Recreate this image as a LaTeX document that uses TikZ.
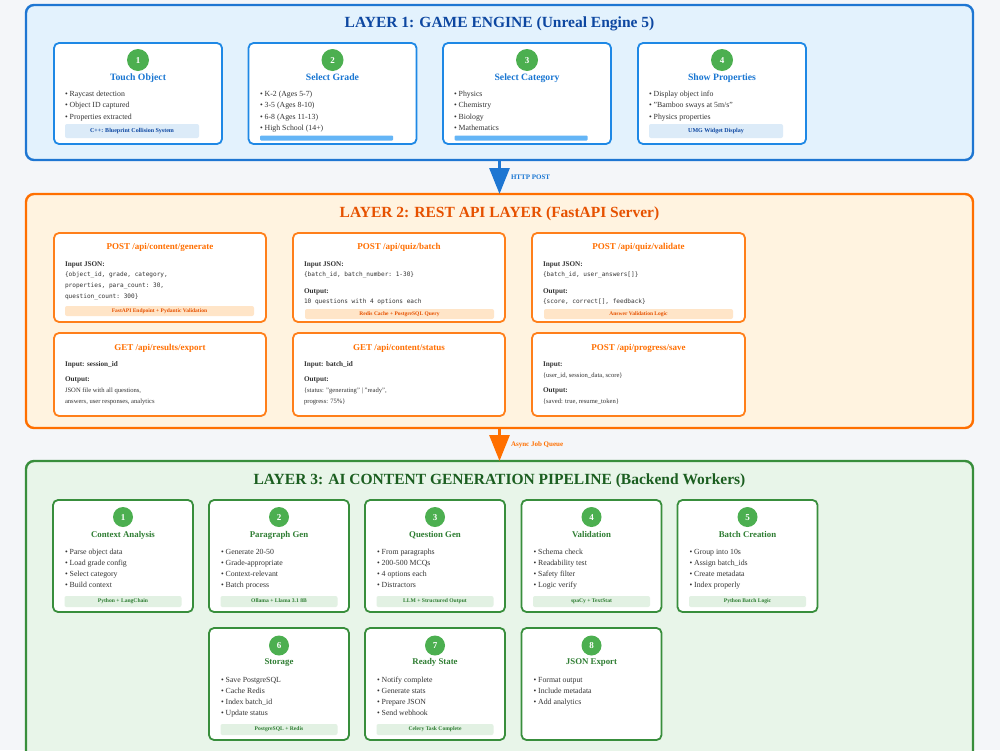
\documentclass[tikz,border=0pt]{standalone}
\usepackage{fontspec}
\setmainfont{Liberation Serif}
\setmonofont{DejaVu Sans Mono}
\usetikzlibrary{arrows.meta}
\definecolor{bgc}{HTML}{F4F6F9}
\definecolor{txt}{HTML}{333333}
\definecolor{bFill}{HTML}{E3F2FD}
\definecolor{bLine}{HTML}{1E76D2}
\definecolor{bDark}{HTML}{0D47A1}
\definecolor{bMid}{HTML}{1976D2}
\definecolor{bBox}{HTML}{1E88E5}
\definecolor{bFoot}{HTML}{DCEBF8}
\definecolor{bBar}{HTML}{64B5F6}
\definecolor{oFill}{HTML}{FFF3E0}
\definecolor{oLine}{HTML}{FF6F00}
\definecolor{oDark}{HTML}{E65100}
\definecolor{oBox}{HTML}{FF7F1A}
\definecolor{oFoot}{HTML}{FFE5C8}
\definecolor{gFill}{HTML}{E8F5E9}
\definecolor{gLine}{HTML}{388E3C}
\definecolor{gDark}{HTML}{1B5E20}
\definecolor{gMid}{HTML}{2E7D32}
\definecolor{gFoot}{HTML}{E2F1E3}
\definecolor{numc}{HTML}{4CAF50}
\newcommand\fsz[1]{\fontsize{#1}{#1}\selectfont}
\tikzset{
  every node/.style={inner sep=0pt, outer sep=0pt},
  layerbox/.style={draw, line width=2.4pt, rounded corners=8pt, minimum width=947pt},
  layertitle/.style={font=\fsz{15.5}\bfseries, text height=14.4pt, text depth=3.2pt},
  bbox/.style={draw=bBox, fill=white, line width=1.8pt, rounded corners=5pt, minimum width=168pt, minimum height=101pt},
  obox/.style={draw=oBox, fill=white, line width=1.8pt, rounded corners=5pt},
  gbox/.style={draw=gLine, fill=white, line width=1.8pt, rounded corners=5pt, minimum width=140pt, minimum height=112pt},
  numdot/.style={circle, fill=numc, text=white, font=\fsz{9}\bfseries, text height=6pt, text depth=0pt},
  btitle/.style={text=bMid, font=\fsz{9.7}\bfseries, text height=9.8pt, text depth=1.8pt},
  otitle/.style={text=oLine, font=\fsz{9}\bfseries, text height=8.6pt, text depth=1.8pt},
  gtitle/.style={text=gMid, font=\fsz{8.8}\bfseries, text height=8.8pt, text depth=1.8pt},
  bul/.style={anchor=west, text=txt, font=\fsz{7.8}, text height=8.3pt, text depth=1.5pt},
  lab/.style={anchor=west, text=txt, font=\fsz{7.2}\bfseries, text height=6.6pt, text depth=1.3pt},
  mono/.style={anchor=west, text=txt, font=\fsz{6.1}\ttfamily, text height=5.4pt, text depth=1.3pt},
  small/.style={anchor=west, text=txt, font=\fsz{6.6}, text height=6.2pt, text depth=1.2pt},
  bfoot/.style={fill=bFoot, rounded corners=2pt, minimum width=134pt, minimum height=14pt, text=bDark, font=\fsz{6}\bfseries, text height=4.2pt, text depth=1.2pt},
  bbar/.style={fill=bBar, rounded corners=1pt, minimum width=133pt, minimum height=5pt},
  ofoot/.style={fill=oFoot, rounded corners=2pt, minimum width=189pt, minimum height=10pt, text=oDark, font=\fsz{5.5}\bfseries, text height=3.9pt, text depth=1.1pt},
  gfoot/.style={fill=gFoot, rounded corners=2pt, minimum width=117pt, minimum height=11pt, text=gMid, font=\fsz{5.6}\bfseries, text height=3.9pt, text depth=1.1pt},
  flow/.style={line width=3pt, -{Triangle[length=26pt,width=20pt]}},
  flowlab/.style={anchor=west, font=\fsz{7}\bfseries, text height=5.6pt, text depth=1.2pt}
}
\begin{document}
\begin{tikzpicture}[x=1pt,y=-1pt]
\fill[bgc] (0,0) rectangle (1000,750);
\useasboundingbox (0,0) rectangle (1000,750);

% ---------- LAYER 1 ----------
\node[layerbox, draw=bLine, fill=bFill, minimum height=155pt] (L1) at (499.5,82.5) {};
\node[layertitle, text=bDark] (L1t) at (499.5,22) {LAYER 1: GAME ENGINE (Unreal Engine 5)};

\node[bbox] (a1) at (138,93.5) {};
\node[numdot, minimum size=22pt] (a1n) at (138,60) {1};
\node[btitle] (a1t) at (138,76) {Touch Object};
\node[bul] (a1a) at (65,93) {• Raycast detection};
\node[bul] (a1b) at (65,104.5) {• Object ID captured};
\node[bul] (a1c) at (65,116) {• Properties extracted};
\node[bfoot] (a1f) at (132,131) {C++: Blueprint Collision System};

\node[bbox] (a2) at (332.5,93.5) {};
\node[numdot, minimum size=22pt] (a2n) at (332.5,60) {2};
\node[btitle] (a2t) at (332.5,76) {Select Grade};
\node[bul] (a2a) at (260,93) {• K-2 (Ages 5-7)};
\node[bul] (a2b) at (260,104.5) {• 3-5 (Ages 8-10)};
\node[bul] (a2c) at (260,116) {• 6-8 (Ages 11-13)};
\node[bul] (a2d) at (260,127) {• High School (14+)};
\node[bbar] (a2f) at (326.5,138) {};

\node[bbox] (a3) at (527,93.5) {};
\node[numdot, minimum size=22pt] (a3n) at (527,60) {3};
\node[btitle] (a3t) at (527,76) {Select Category};
\node[bul] (a3a) at (454,93) {• Physics};
\node[bul] (a3b) at (454,104.5) {• Chemistry};
\node[bul] (a3c) at (454,116) {• Biology};
\node[bul] (a3d) at (454,127) {• Mathematics};
\node[bbar] (a3f) at (521,138) {};

\node[bbox] (a4) at (722,93.5) {};
\node[numdot, minimum size=22pt] (a4n) at (722,60) {4};
\node[btitle] (a4t) at (722,76) {Show Properties};
\node[bul] (a4a) at (649,93) {• Display object info};
\node[bul] (a4b) at (649,104.5) {• "Bamboo sways at 5m/s"};
\node[bul] (a4c) at (649,116) {• Physics properties};
\node[bfoot] (a4f) at (716,131) {UMG Widget Display};

% ---------- LAYER 2 ----------
\node[layerbox, draw=oLine, fill=oFill, minimum height=234pt] (L2) at (499.5,311) {};
\node[layertitle, text=oDark] (L2t) at (499.5,212) {LAYER 2: REST API LAYER (FastAPI Server)};

\draw[flow, bLine] (L1.south) -- (L2.north);
\node[flowlab, text=bMid] (f1) at (511,177) {HTTP POST};

\node[obox, minimum width=212pt, minimum height=89pt] (b1) at (160,277.5) {};
\node[otitle] (b1t) at (160,246) {POST /api/content/generate};
\node[lab] (b1a) at (65,264) {Input JSON:};
\node[mono] (b1b) at (65,274.5) {\{object\_id, grade, category,};
\node[mono] (b1c) at (65,285.5) {properties, para\_count: 30,};
\node[mono] (b1d) at (65,296.5) {question\_count: 300\}};
\node[ofoot] (b1f) at (159.5,311) {FastAPI Endpoint + Pydantic Validation};

\node[obox, minimum width=212pt, minimum height=89pt] (b2) at (399,277.5) {};
\node[otitle] (b2t) at (399,246) {POST /api/quiz/batch};
\node[lab] (b2a) at (304,264) {Input JSON:};
\node[mono] (b2b) at (304,274) {\{batch\_id, batch\_number: 1-30\}};
\node[lab] (b2c) at (304,290.5) {Output:};
\node[mono] (b2d) at (304,301) {10 questions with 4 options each};
\node[ofoot] (b2f) at (399.5,314) {Redis Cache + PostgreSQL Query};

\node[obox, minimum width=213pt, minimum height=89pt] (b3) at (638.5,277.5) {};
\node[otitle] (b3t) at (638.5,246) {POST /api/quiz/validate};
\node[lab] (b3a) at (543,264) {Input JSON:};
\node[mono] (b3b) at (543,274) {\{batch\_id, user\_answers[]\}};
\node[lab] (b3c) at (543,290.5) {Output:};
\node[mono] (b3d) at (543,301) {\{score, correct[], feedback\}};
\node[ofoot] (b3f) at (638.5,314) {Answer Validation Logic};

\node[obox, minimum width=212pt, minimum height=83pt] (b4) at (160,374.5) {};
\node[otitle] (b4t) at (160,347) {GET /api/results/export};
\node[lab] (b4a) at (65,364) {Input: session\_id};
\node[lab] (b4b) at (65,379) {Output:};
\node[small] (b4c) at (65,389.5) {JSON file with all questions,};
\node[small] (b4d) at (65,400.5) {answers, user responses, analytics};

\node[obox, minimum width=212pt, minimum height=83pt] (b5) at (399,374.5) {};
\node[otitle] (b5t) at (399,347) {GET /api/content/status};
\node[lab] (b5a) at (304,364) {Input: batch\_id};
\node[lab] (b5b) at (304,379) {Output:};
\node[small] (b5c) at (304,389.5) {\{status: "generating" | "ready",};
\node[small] (b5d) at (304,400.5) {progress: 75\%\}};

\node[obox, minimum width=213pt, minimum height=83pt] (b6) at (638.5,374.5) {};
\node[otitle] (b6t) at (638.5,347) {POST /api/progress/save};
\node[lab] (b6a) at (543,364) {Input:};
\node[small] (b6b) at (543,375) {\{user\_id, session\_data, score\}};
\node[lab] (b6c) at (543,390) {Output:};
\node[small] (b6d) at (543,400.5) {\{saved: true, resume\_token\}};

% ---------- LAYER 3 ----------
\node[layerbox, draw=gLine, fill=gFill, minimum height=300pt] (L3) at (499.5,611) {};
\node[layertitle, text=gDark] (L3t) at (499.5,479) {LAYER 3: AI CONTENT GENERATION PIPELINE (Backend Workers)};

\draw[flow, oLine] (L2.south) -- (L3.north);
\node[flowlab, text=oLine] (f2) at (511,444) {Async Job Queue};

% row 1
\node[gbox] (c1) at (123,556) {};
\node[numdot, minimum size=20pt] (c1n) at (123,517) {1};
\node[gtitle] (c1t) at (123,533.5) {Context Analysis};
\node[bul] (c1a) at (65,551) {• Parse object data};
\node[bul] (c1b) at (65,562) {• Load grade config};
\node[bul] (c1c) at (65,573) {• Select category};
\node[bul] (c1d) at (65,584) {• Build context};
\node[gfoot] (c1f) at (123,601.5) {Python + LangChain};

\node[gbox] (c2) at (279,556) {};
\node[numdot, minimum size=20pt] (c2n) at (279,517) {2};
\node[gtitle] (c2t) at (279,533.5) {Paragraph Gen};
\node[bul] (c2a) at (221,551) {• Generate 20-50};
\node[bul] (c2b) at (221,562) {• Grade-appropriate};
\node[bul] (c2c) at (221,573) {• Context-relevant};
\node[bul] (c2d) at (221,584) {• Batch process};
\node[gfoot] (c2f) at (279,601.5) {Ollama + Llama 3.1 8B};

\node[gbox] (c3) at (435,556) {};
\node[numdot, minimum size=20pt] (c3n) at (435,517) {3};
\node[gtitle] (c3t) at (435,533.5) {Question Gen};
\node[bul] (c3a) at (377,551) {• From paragraphs};
\node[bul] (c3b) at (377,562) {• 200-500 MCQs};
\node[bul] (c3c) at (377,573) {• 4 options each};
\node[bul] (c3d) at (377,584) {• Distractors};
\node[gfoot] (c3f) at (435,601.5) {LLM + Structured Output};

\node[gbox] (c4) at (591.5,556) {};
\node[numdot, minimum size=20pt] (c4n) at (591.5,517) {4};
\node[gtitle] (c4t) at (591.5,533.5) {Validation};
\node[bul] (c4a) at (533.5,551) {• Schema check};
\node[bul] (c4b) at (533.5,562) {• Readability test};
\node[bul] (c4c) at (533.5,573) {• Safety filter};
\node[bul] (c4d) at (533.5,584) {• Logic verify};
\node[gfoot] (c4f) at (591.5,601.5) {spaCy + TextStat};

\node[gbox] (c5) at (747.5,556) {};
\node[numdot, minimum size=20pt] (c5n) at (747.5,517) {5};
\node[gtitle] (c5t) at (747.5,533.5) {Batch Creation};
\node[bul] (c5a) at (689.5,551) {• Group into 10s};
\node[bul] (c5b) at (689.5,562) {• Assign batch\_ids};
\node[bul] (c5c) at (689.5,573) {• Create metadata};
\node[bul] (c5d) at (689.5,584) {• Index properly};
\node[gfoot] (c5f) at (747.5,601.5) {Python Batch Logic};

% row 2
\node[gbox] (c6) at (279,684) {};
\node[numdot, minimum size=20pt] (c6n) at (279,645.5) {6};
\node[gtitle] (c6t) at (279,661) {Storage};
\node[bul] (c6a) at (221,679) {• Save PostgreSQL};
\node[bul] (c6b) at (221,690) {• Cache Redis};
\node[bul] (c6c) at (221,701) {• Index batch\_id};
\node[bul] (c6d) at (221,712) {• Update status};
\node[gfoot] (c6f) at (279,729.5) {PostgreSQL + Redis};

\node[gbox] (c7) at (435,684) {};
\node[numdot, minimum size=20pt] (c7n) at (435,645.5) {7};
\node[gtitle] (c7t) at (435,661) {Ready State};
\node[bul] (c7a) at (377,679) {• Notify complete};
\node[bul] (c7b) at (377,690) {• Generate stats};
\node[bul] (c7c) at (377,701) {• Prepare JSON};
\node[bul] (c7d) at (377,712) {• Send webhook};
\node[gfoot] (c7f) at (435,729.5) {Celery Task Complete};

\node[gbox] (c8) at (591.5,684) {};
\node[numdot, minimum size=20pt] (c8n) at (591.5,645.5) {8};
\node[gtitle] (c8t) at (591.5,661) {JSON Export};
\node[bul] (c8a) at (533.5,679) {• Format output};
\node[bul] (c8b) at (533.5,690) {• Include metadata};
\node[bul] (c8c) at (533.5,701) {• Add analytics};
\end{tikzpicture}
\end{document}
